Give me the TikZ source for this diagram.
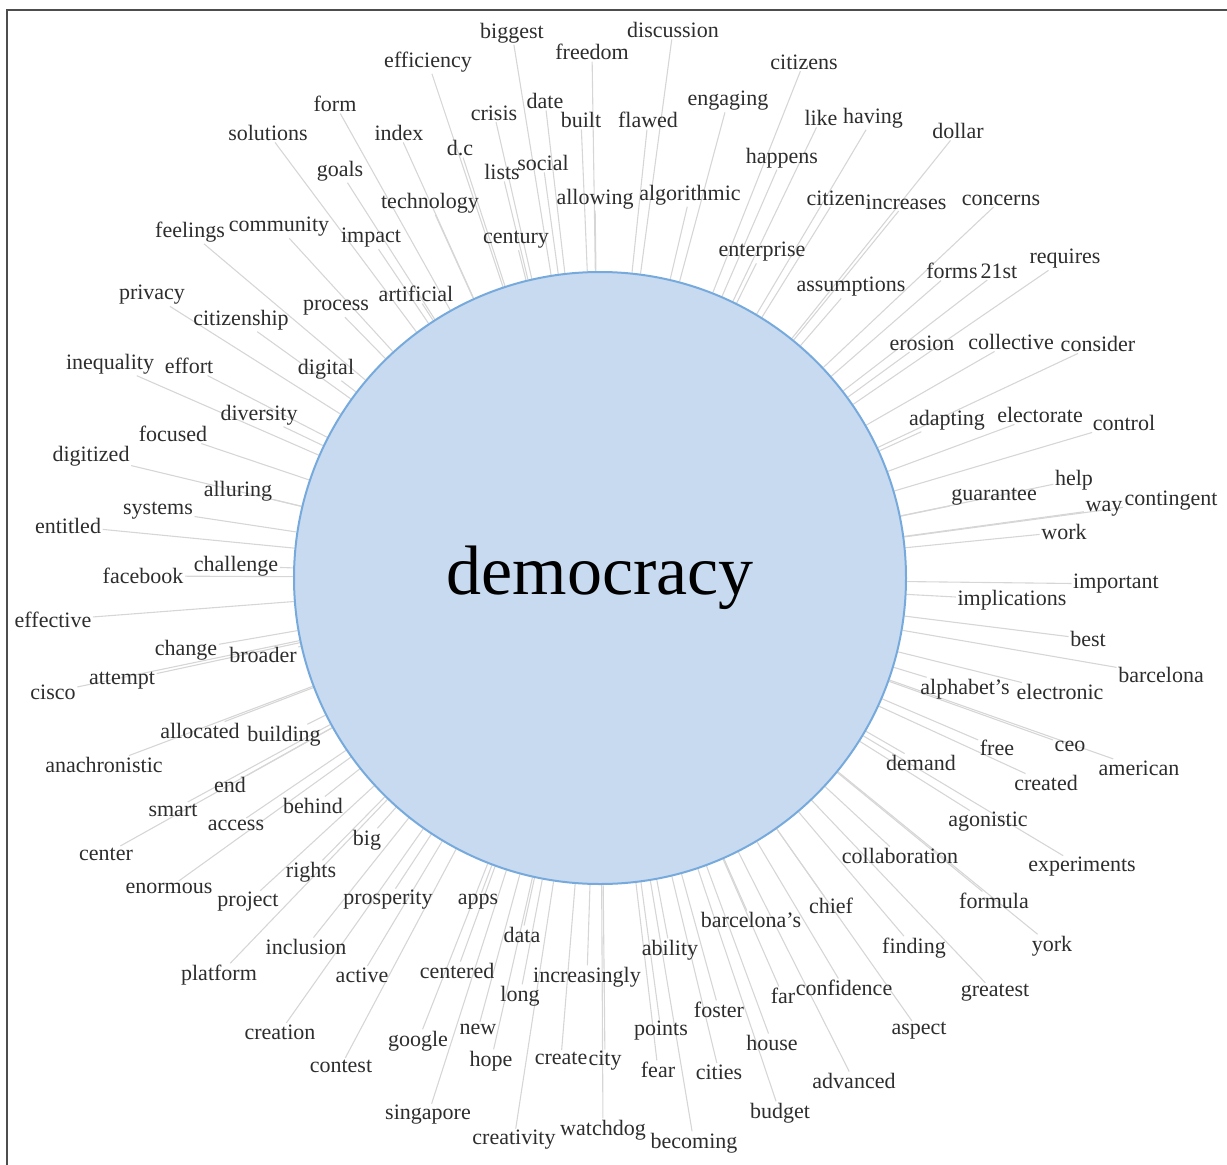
\documentclass[tikz,border=0pt]{standalone}
\usepackage{fontspec}
\setmainfont{Liberation Serif}
\usetikzlibrary{backgrounds}
\definecolor{hubFill}{RGB}{200,218,240}
\definecolor{hubEdge}{RGB}{118,170,220}
\definecolor{spokeGray}{RGB}{214,214,214}
\definecolor{wordGray}{RGB}{45,45,45}
\definecolor{frameGray}{RGB}{77,77,77}

\begin{document}
\begin{tikzpicture}[
  x=1pt, y=-1pt,
  hub/.style={
    circle,
    draw=hubEdge,
    line width=2pt,
    fill=hubFill,
    minimum size=612pt,
    inner sep=0pt,
    font=\fontsize{70}{80}\selectfont
  },
  word/.style={inner sep=1.5pt, text=wordGray, font=\fontsize{22}{26}\selectfont},
  spoke/.style={spokeGray, line width=1.1pt}
]
  \useasboundingbox (0,0) rectangle (1227,1165);
  \draw[frameGray, line width=2pt] (1230,10) -- (7,10) -- (7,1170);

  \node[hub] (dem) at (600,578) {democracy};

  % words round the hub: id / x / y / text
  \foreach \id/\x/\y/\txt in {
    biggest/512/33/biggest, discussion/673/30/discussion, freedom/592/52/freedom,
    efficiency/428/62/efficiency, citizens/804/62/citizens, date/545/101/date,
    form/335/104/form, crisis/494/113/crisis, built/581/120/built,
    flawed/648/120/flawed, engaging/728/101/engaging, like/821/118/like,
    having/873/118/having, solutions/268/133/solutions, index/399/133/index,
    dollar/958/131/dollar, dc/460/148/d.c, happens/782/158/happens,
    lists/502/172/lists, social/543/163/social, goals/340/171/goals,
    allowing/595/199/allowing, algorithmic/690/195/algorithmic,
    citizen/836/198/citizen, increases/906/202/increases, concerns/1001/200/concerns,
    technology/430/203/technology, feelings/190/232/feelings,
    community/279/227/community, impact/371/238/impact, century/516/240/century,
    enterprise/762/252/enterprise, requires/1065/259/requires,
    forms/952/271/forms, c21st/999/271/21st, assumptions/851/287/assumptions,
    privacy/152/295/privacy, artificial/416/294/artificial, process/336/308/process,
    citizenship/241/320/citizenship, erosion/922/343/erosion,
    collective/1011/342/collective, consider/1098/344/consider,
    inequality/110/364/inequality, effort/189/366/effort, digital/326/369/digital,
    diversity/259/415/diversity, adapting/947/420/adapting,
    electorate/1040/415/electorate, control/1124/423/control,
    focused/173/434/focused, digitized/91/456/digitized, help/1074/480/help,
    alluring/238/491/alluring, guarantee/994/497/guarantee, way/1104/509/way,
    contingent/1171/501/contingent, systems/158/511/systems, entitled/68/526/entitled,
    work/1064/532/work, challenge/236/566/challenge, facebook/143/576/facebook,
    important/1116/584/important, implications/1012/600/implications,
    effective/53/620/effective, best/1088/639/best, change/186/650/change,
    broader/263/655/broader, barcelona/1161/675/barcelona, attempt/122/681/attempt,
    cisco/53/692/cisco, alphabets/965/689/alphabet’s, electronic/1060/692/electronic,
    allocated/200/731/allocated, building/284/736/building, ceo/1070/746/ceo,
    free/997/748/free, anachronistic/104/765/anachronistic, demand/921/763/demand,
    american/1139/768/american, created/1046/783/created, end/230/785/end,
    smart/173/810/smart, behind/313/806/behind, access/236/825/access,
    agonistic/988/822/agonistic, big/367/840/big, center/106/854/center,
    collaboration/900/856/collaboration, experiments/1082/867/experiments,
    rights/311/872/rights, enormous/169/888/enormous, prosperity/388/900/prosperity,
    project/248/902/project, apps/478/902/apps, chief/831/906/chief,
    formula/994/901/formula, barcelonas/751/920/barcelona’s, data/522/935/data,
    inclusion/306/947/inclusion, finding/914/948/finding, york/1052/946/york,
    ability/670/950/ability, platform/219/975/platform, active/362/975/active,
    centered/457/971/centered, increasingly/587/977/increasingly, long/520/996/long,
    far/783/996/far, confidence/844/988/confidence, greatest/995/993/greatest,
    foster/719/1010/foster, new/478/1029/new, points/661/1031/points,
    creation/280/1032/creation, aspect/919/1031/aspect, google/418/1041/google,
    house/772/1043/house, hope/491/1061/hope, create/561/1058/create,
    city/605/1061/city, contest/341/1066/contest, fear/658/1070/fear,
    cities/719/1072/cities, advanced/854/1081/advanced, singapore/428/1115/singapore,
    budget/780/1113/budget, watchdog/603/1130/watchdog, creativity/514/1140/creativity,
    becoming/694/1143/becoming%
  }{
    \node[word] (\id) at (\x,\y) {\txt};
    \begin{scope}[on background layer]
      \draw[spoke] (dem) -- (\id);
    \end{scope}
  }
\end{tikzpicture}
\end{document}
